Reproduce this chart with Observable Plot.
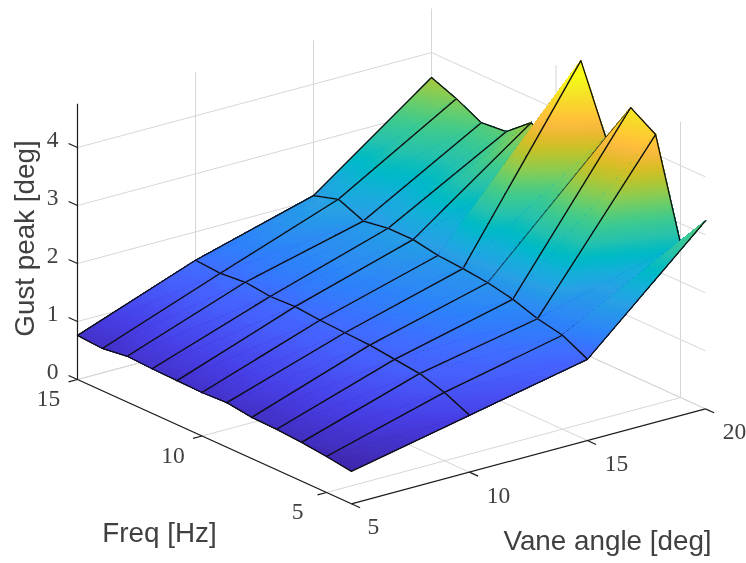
<!DOCTYPE html>
<html><head><meta charset="utf-8">
<script src="https://cdn.jsdelivr.net/npm/d3@7"></script>
<script src="https://cdn.jsdelivr.net/npm/@observablehq/plot@0.6"></script>
<style>html,body{margin:0;padding:0;background:#fff;overflow:hidden}svg{display:block;filter:blur(0.5px)}</style>
</head><body><div id="chart"></div>
<script>
// ---- data ----
const freqs = [15,14,13,12,11,10,9,8,7,6,5,4];
const vanes = [5,10,15,20];
const gustV5  = [0.76,0.73,0.79,0.77,0.76,0.75,0.77,0.71,0.70,0.67,0.62,0.56];
const gustV10 = [1.51,1.48,1.52,1.47,1.49,1.45,1.43,1.41,1.36,1.31,1.18,0.98];
const gustV15 = [2.08,2.21,2.03,2.10,2.10,2.02,1.99,1.94,1.85,1.71,1.62,1.40];
const gustV20 = [3.57,3.40,3.18,3.22,3.57,3.25,5.03,3.90,4.61,4.34,2.66,3.24];
const gust = [gustV5,gustV10,gustV15,gustV20];
const freqTicks = [15,10,5];
const vaneTicks = [5,10,15,20];
const gustTicks = [0,1,2,3,4];
const parula = ["#3e26a8","#402ab4","#4230c0","#4433cb","#4537d5","#463bde","#473fe5","#4747eb","#484cf0","#4852f4","#4758f8","#4660fb","#4563fc","#4269fe","#3e6fff","#3875fe","#327cfc","#2e81f9","#2d87f7","#2d8cf3","#2b91ef","#2796eb","#259be8","#2ca0e5","#20a5e3","#1ca9df","#18addb","#11b1d6","#08b5d0","#01b8ca","#02bbc3","#0bbdbc","#18bfb6","#24c2ae","#2cc3a7","#31c69f","#37c897","#3fca8e","#4acb84","#57cc7a","#64cd6f","#72cd64","#81cc59","#8fcb4e","#9dc943","#abc739","#b9c431","#c5c22a","#d1bf27","#dcbd29","#e6bb2d","#efba36","#f8ba3d","#febe3c","#fec338","#fec934","#fccf30","#f9d52d","#f7dc2a","#f5e327","#f5e924","#f6ef20","#f7f51b","#f9fb15"];
const zMin = 0.56, zMax = 4.8;

// ---- view ----
const X0 = 77, Y0 = 379, ZPX = 58, FX = 24.9, FY = 11.3, VX = 23.6, VY = -6.33;
const fMin = 4, fMax = 15, vMin = 5, vMax = 20, zTop = 4.755;
const px = (v,f) => X0 + (fMax-f)*FX + (v-vMin)*VX;
const py = (v,f,z) => Y0 + (fMax-f)*FY + (v-vMin)*VY - z*ZPX;

// ---- nested iso-height regions of a flat triangle, lowest first ----
const nBands = 160, step = (zMax-zMin)/nBands;
function clipAbove(poly, level){
  const out=[];
  for(let i=0;i<poly.length;i++){
    const a=poly[i], b=poly[(i+1)%poly.length];
    const ka=a[2]>=level, kb=b[2]>=level;
    if(ka) out.push(a);
    if(ka!==kb){const t=(level-a[2])/(b[2]-a[2]);out.push([a[0]+t*(b[0]-a[0]),a[1]+t*(b[1]-a[1]),level]);}
  }
  return out;
}
let polyId=0;
function bands(tri){
  const rows=[];
  for(let b=0;b<nBands;b++){
    const a0=zMin+b*step;
    const p = b===0 ? tri : clipAbove(tri,a0);
    if(p.length<3) continue;
    polyId++;
    for(const q of p) rows.push({id:polyId,x:px(q[0],q[1]),y:py(q[0],q[1],q[2]),c:a0+step/2});
  }
  return rows;
}

// ---- marks: box first ----
const link=(a,b)=>({x1:px(a[0],a[1]),y1:py(a[0],a[1],a[2]),x2:px(b[0],b[1]),y2:py(b[0],b[1],b[2])});
const gridRows=[];
for(const z of gustTicks){gridRows.push(link([vMin,fMax,z],[vMax,fMax,z]),link([vMax,fMax,z],[vMax,fMin,z]));}
for(const v of vaneTicks){gridRows.push(link([v,fMax,0],[v,fMin,0]),link([v,fMax,0],[v,fMax,zTop]));}
for(const f of freqTicks){gridRows.push(link([vMin,f,0],[vMax,f,0]),link([vMax,f,0],[vMax,f,zTop]));}
const lk={x1:"x1",y1:"y1",x2:"x2",y2:"y2"};
const marks=[Plot.link(gridRows,{...lk,stroke:"#d6d6d6",strokeWidth:1})];

const axisRows=[link([vMin,fMax,0],[vMin,fMax,zTop]),link([vMin,fMax,0],[vMin,fMin,0]),link([vMin,fMin,0],[vMax,fMin,0])];
for(const z of gustTicks) axisRows.push(link([vMin,fMax,z],[vMin,fMax+0.36,z]));
for(const f of freqTicks) axisRows.push(link([vMin,f,0],[vMin-0.38,f,0]));
for(const v of vaneTicks) axisRows.push(link([v,fMin,0],[v,fMin-0.35,0]));
marks.push(Plot.link(axisRows,{...lk,stroke:"#1c1c1c",strokeWidth:1.2}));

// ---- surface, back to front ----
const pt=(i,k)=>[vanes[i],freqs[k],gust[i][k]];
const edgeMark=(pts,w=1.3)=>Plot.line(pts.map(q=>({x:px(q[0],q[1]),y:py(q[0],q[1],q[2])})),{x:"x",y:"y",stroke:"#0d0d0d",strokeWidth:w});
const fillMark=(tri)=>Plot.line(bands(tri),{x:"x",y:"y",z:"id",fill:"c",stroke:"c",strokeWidth:0.5});
const facing=(p,q,r)=>{
  const ax=px(q[0],q[1])-px(p[0],p[1]), ay=py(q[0],q[1],q[2])-py(p[0],p[1],p[2]);
  const bx=px(r[0],r[1])-px(p[0],p[1]), by=py(r[0],r[1],r[2])-py(p[0],p[1],p[2]);
  return ax*by-ay*bx;
};
for(let i=vanes.length-2;i>=0;i--){
  for(let k=0;k<freqs.length-1;k++){
    const a=pt(i,k), b=pt(i+1,k), c=pt(i+1,k+1), d=pt(i,k+1);
    const f=facing(a,b,c);
    marks.push(fillMark([a,b,c]));
    if(f<0) marks.push(edgeMark([a,b,c]));          // seen from behind: the near triangle hides these edges
    marks.push(fillMark([a,d,c]));
    if(f>=0) marks.push(edgeMark([a,b,c], f<400?0.7:1.3));
    marks.push(edgeMark([a,d,c]));
  }
}

// ---- labels ----
const tickFont={fontFamily:"'Liberation Serif',serif",fontSize:23.5,fill:"#404040",textAnchor:"middle",lineAnchor:"middle"};
marks.push(Plot.text(gustTicks,{x:z=>px(vMin,fMax)-25,y:z=>py(vMin,fMax,z)-8,text:z=>String(z),...tickFont}));
marks.push(Plot.text(freqTicks,{x:f=>px(vMin,f)-29,y:f=>py(vMin,f,0)+19,text:f=>String(f),...tickFont}));
marks.push(Plot.text(vaneTicks,{x:v=>px(v,fMin)+(v===vMin?22:29),y:v=>py(v,fMin,0)+23,text:v=>String(v),...tickFont}));
const titleFont={fontFamily:"'Liberation Sans',Arial,sans-serif",fontSize:27.8,fill:"#404040",textAnchor:"middle",lineAnchor:"middle"};
marks.push(Plot.text(["Gust peak [deg]"],{x:()=>25,y:()=>238,rotate:-90,text:d=>d,...titleFont}));
marks.push(Plot.text(["Freq [Hz]"],{x:()=>159,y:()=>533,text:d=>d,...titleFont}));
marks.push(Plot.text(["Vane angle [deg]"],{x:()=>607,y:()=>541,text:d=>d,...titleFont}));

const chart=Plot.plot({
  width:746,height:563,margin:0,
  x:{domain:[0,746],range:[0,746],axis:null},
  y:{domain:[0,563],range:[0,563],axis:null},
  color:{type:"linear",domain:parula.map((_,i)=>zMin+i/(parula.length-1)*(zMax-zMin)),range:parula,legend:false},
  marks
});
document.getElementById("chart").appendChild(chart);
</script></body></html>
